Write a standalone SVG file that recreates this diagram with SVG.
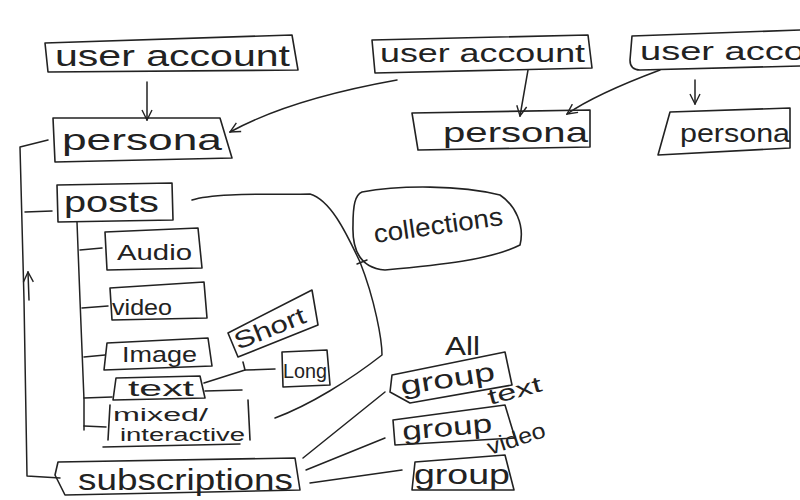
<svg xmlns="http://www.w3.org/2000/svg" width="800" height="500" viewBox="0 0 800 500">
<style>
.b{fill:none;stroke:#222;stroke-width:1.6;stroke-linejoin:round;stroke-linecap:round}
.c{fill:none;stroke:#222;stroke-width:1.5;stroke-linecap:round;stroke-linejoin:round}
.t{font-family:"Liberation Sans","DejaVu Sans",sans-serif;fill:#222}
</style>
<defs>
<marker id="ah" viewBox="0 0 12 12" refX="11" refY="6" markerWidth="12" markerHeight="12" markerUnits="userSpaceOnUse" orient="auto">
<path d="M1 1 L11 6 L1 11" fill="none" stroke="#222" stroke-width="1.4"/>
</marker>
</defs>
<rect width="800" height="500" fill="#fff"/>
<g id="connectors">
<path class="c" d="M147 82 L147 120" marker-end="url(#ah)"/>
<path class="c" d="M397 80 C330 92 270 110 230 132" marker-end="url(#ah)"/>
<path class="c" d="M528 70 L520 116" marker-end="url(#ah)"/>
<path class="c" d="M660 70 C620 85 590 98 567 114" marker-end="url(#ah)"/>
<path class="c" d="M695 80 L695 104" marker-end="url(#ah)"/>
<path class="c" d="M48 140 L20 147 L24 300 L27 476 L60 478"/>
<path class="c" d="M29 300 L28 272" marker-end="url(#ah)"/>
<path class="c" d="M25 212 L52 211"/>
<path class="c" d="M77 222 L80 300 L84 400 L84 430"/>
<path class="c" d="M80 250 L102 248"/>
<path class="c" d="M82 308 L108 306"/>
<path class="c" d="M84 357 L105 355"/>
<path class="c" d="M84 398 L112 397"/>
<path class="c" d="M84 426 L106 427"/>
<path class="c" d="M204 383 L245 370 L275 369"/>
<path class="c" d="M245 370 L243 362"/>
<path class="c" d="M205 391 L242 390"/>
<path class="c" d="M192 200 C215 192 280 195 310 194 C330 200 345 230 360 262 C375 300 382 340 382 355 C350 380 310 405 275 418"/>
<path class="c" d="M357 264 L367 260"/>
<path class="c" d="M103 447 L240 444"/>
<path class="c" d="M303 458 L385 392"/>
<path class="c" d="M306 470 L385 438"/>
<path class="c" d="M310 483 L402 470"/>
</g>
<g id="user-account-1">
<path class="b" d="M45 43 L292 35 L298 70 L48 72 Z"/>
<text class="t" x="55" y="66" font-size="30" textLength="235" lengthAdjust="spacingAndGlyphs">user account</text>
</g>
<g id="user-account-2">
<path class="b" d="M372 40 L588 35 L592 68 L375 73 Z"/>
<text class="t" x="380" y="62" font-size="26" textLength="205" lengthAdjust="spacingAndGlyphs">user account</text>
</g>
<g id="user-account-3">
<path class="b" d="M632 36 L800 30 M800 66 L640 70 Q630 70 630 60 L632 36"/>
<text class="t" x="640" y="60" font-size="26" textLength="165" lengthAdjust="spacingAndGlyphs">user acco</text>
</g>
<g id="persona-1">
<path class="b" d="M53 118 L220 118 L232 158 L55 162 Z"/>
<text class="t" x="62" y="150" font-size="30" textLength="160" lengthAdjust="spacingAndGlyphs">persona</text>
</g>
<g id="persona-2">
<path class="b" d="M412 113 L590 110 L590 147 L418 150 Z"/>
<text class="t" x="443" y="142" font-size="28" textLength="145" lengthAdjust="spacingAndGlyphs">persona</text>
</g>
<g id="persona-3">
<path class="b" d="M670 112 L790 108 L790 148 L658 155 Z"/>
<text class="t" x="680" y="142" font-size="26" textLength="110" lengthAdjust="spacingAndGlyphs">persona</text>
</g>
<g id="posts">
<path class="b" d="M57 185 L172 183 L173 220 L58 222 Z"/>
<text class="t" x="64" y="212" font-size="30" textLength="95" lengthAdjust="spacingAndGlyphs">posts</text>
</g>
<g id="audio">
<path class="b" d="M105 232 L198 228 L202 268 L107 270 Z"/>
<text class="t" x="117" y="260" font-size="22" textLength="75" lengthAdjust="spacingAndGlyphs">Audio</text>
</g>
<g id="video">
<path class="b" d="M110 288 L204 282 L207 318 L112 320 Z"/>
<text class="t" x="112" y="315" font-size="22" textLength="60" lengthAdjust="spacingAndGlyphs">video</text>
</g>
<g id="image">
<path class="b" d="M107 343 L208 338 L212 366 L104 370 Z"/>
<text class="t" x="122" y="362" font-size="22" textLength="75" lengthAdjust="spacingAndGlyphs">Image</text>
</g>
<g id="text">
<path class="b" d="M116 378 L200 376 L205 398 L113 400 Z"/>
<text class="t" x="128" y="396" font-size="22" textLength="66" lengthAdjust="spacingAndGlyphs">text</text>
</g>
<g id="mixed">
<path class="b" d="M110 405 L108 440 M248 400 L250 440"/>
<text class="t" x="113" y="421" font-size="18" textLength="95" lengthAdjust="spacingAndGlyphs">mixed/</text>
<text class="t" x="120" y="441" font-size="18" textLength="125" lengthAdjust="spacingAndGlyphs">interactive</text>
</g>
<g id="short">
<path class="b" d="M228 333 L312 290 L318 325 L238 357 Z"/>
<text class="t" x="238" y="350" font-size="24" textLength="75" lengthAdjust="spacingAndGlyphs" transform="rotate(-22 238 350)">Short</text>
</g>
<g id="long">
<path class="b" d="M282 352 L327 350 L330 385 L283 387 Z"/>
<text class="t" x="283" y="378" font-size="20" textLength="44" lengthAdjust="spacingAndGlyphs">Long</text>
</g>
<g id="collections">
<path class="b" d="M362 192 C400 185 460 185 500 195 C515 205 525 225 520 245 C490 260 440 265 385 270 C360 268 352 250 353 225 C353 205 355 195 362 192 Z"/>
<text class="t" x="375" y="243" font-size="26" textLength="130" lengthAdjust="spacingAndGlyphs" transform="rotate(-8 375 243)">collections</text>
</g>
<g id="subscriptions">
<path class="b" d="M58 462 L295 458 L300 490 L65 495 L55 475 Z"/>
<text class="t" x="78" y="490" font-size="30" textLength="215" lengthAdjust="spacingAndGlyphs">subscriptions</text>
</g>
<g id="group-all">
<path class="b" d="M392 375 L505 352 L512 385 L410 403 L390 392 Z"/>
<text class="t" x="402" y="395" font-size="26" textLength="95" lengthAdjust="spacingAndGlyphs" transform="rotate(-9 402 395)">group</text>
<text class="t" x="445" y="355" font-size="26" textLength="35" lengthAdjust="spacingAndGlyphs">All</text>
</g>
<g id="group-text">
<path class="b" d="M393 420 L505 405 L515 438 L395 445 Z"/>
<text class="t" x="403" y="440" font-size="26" textLength="90" lengthAdjust="spacingAndGlyphs" transform="rotate(-5 403 440)">group</text>
<text class="t" x="490" y="405" font-size="22" textLength="55" lengthAdjust="spacingAndGlyphs" transform="rotate(-15 490 405)">text</text>
</g>
<g id="group-video">
<path class="b" d="M415 462 L505 455 L514 490 L412 490 Z"/>
<text class="t" x="414" y="484" font-size="28" textLength="96" lengthAdjust="spacingAndGlyphs">group</text>
<text class="t" x="490" y="455" font-size="22" textLength="60" lengthAdjust="spacingAndGlyphs" transform="rotate(-18 490 455)">video</text>
</g>
</svg>
